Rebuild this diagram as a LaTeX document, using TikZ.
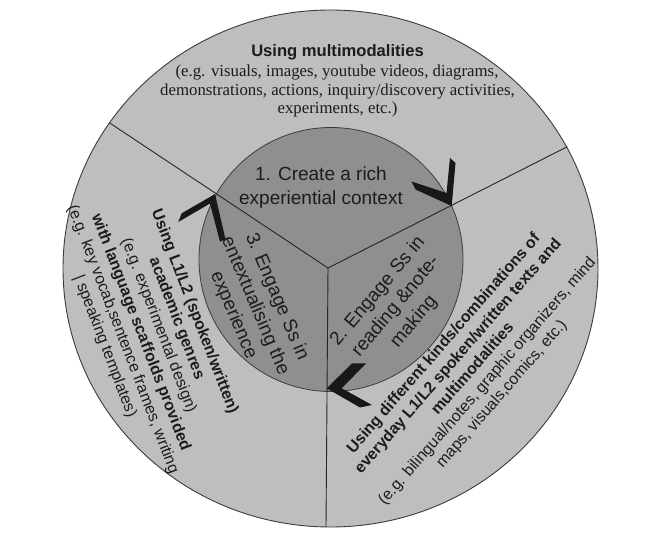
\documentclass[tikz,border=0pt]{standalone}
\usepackage{fontspec}
\setmainfont{Liberation Serif}
\setsansfont{Liberation Sans}
\definecolor{outergray}{RGB}{190,190,190}
\definecolor{innergray}{RGB}{143,143,143}
\definecolor{chevcol}{RGB}{24,24,24}
\definecolor{edgecol}{RGB}{60,60,60}
\definecolor{txtcol}{RGB}{28,28,28}
\begin{document}
\begin{tikzpicture}[x=1pt,y=-1pt,
  divline/.style={draw=black!85, line width=0.9pt},
  chevron/.style={fill=chevcol, draw=none},
  innertxt/.style={font=\sffamily\fontsize{19}{23.5}\selectfont, align=center, inner sep=0pt, text=txtcol},
  outertxt/.style={font=\sffamily\fontsize{15.9}{19.2}\selectfont, align=center, inner sep=0pt, text=txtcol},
  seriftxt/.style={font=\rmfamily\fontsize{16.8}{18.5}\selectfont, inner sep=0pt, anchor=base, text=txtcol},
  titletxt/.style={font=\sffamily\bfseries\fontsize{16.6}{18.5}\selectfont, inner sep=0pt, anchor=base, text=txtcol}]
\useasboundingbox (0,0) rectangle (665,545);
\fill[white] (0,0) rectangle (665,545);
% circles
\filldraw[fill=outergray, draw=edgecol, line width=0.9pt] (330.5,268.5) ellipse [x radius=267.5pt, y radius=258.5pt];
\filldraw[fill=innergray, draw=edgecol, line width=0.8pt] (331,259.5) circle [radius=132pt];
% dividing lines
\coordinate (J) at (328,268);
\coordinate (LA) at (109.3,122.7);
\coordinate (RA) at (567.3,146.7);
\coordinate (BA) at (326,527);
\draw[divline] (J) -- (LA);
\draw[divline] (J) -- (RA);
\draw[divline] (J) -- (BA);
% chevrons
\fill[chevron] (451.7,206) -- (455.5,163) -- (450,158) -- (446.5,193) -- (411.5,181.5) -- (415.5,189.5) -- cycle;
\fill[chevron] (215,194) -- (181.7,213.3) -- (178.3,222) -- (210,203.5) -- (220,241.7) -- (225.5,239.3) -- cycle;
\fill[chevron] (326.7,388.3) -- (352,363.5) -- (366,363.5) -- (341.7,388.3) -- (372,405) -- (360,407.5) -- cycle;
% top texts
\node[titletxt] (t1) at (337.5,57) {Using multimodalities};
\node[seriftxt] (t2) at (337,77) {(e.g. visuals, images, youtube videos, diagrams,};
\node[seriftxt] (t3) at (337.5,95.5) {demonstrations, actions, inquiry/discovery activities,};
\node[seriftxt] (t4) at (337.5,114) {experiments, etc.)};
% inner texts
\node[innertxt] (i1) at (321,187.5) {1. Create a rich\\experiential context};
\node[innertxt, rotate=50] (i2) at (396,306.5) {2. Engage Ss in\\reading \&note-\\making};
\node[innertxt, rotate=-67] (i3) at (255,306) {3. Engage Ss in\\entextualising the\\experience};
% outer side texts
\node[outertxt, rotate=-69] (l1) at (149.5,329) {\textbf{Using L1/L2 (spoken/written)}\\\textbf{academic genres}\\(e.g. experimental design)\\\textbf{with language scaffolds provided}\\(e.g. key vocab,sentence frames, writing\\| speaking templates)};
\node[outertxt, rotate=49] (r1) at (473,369) {\textbf{Using different kinds/combinations of}\\\textbf{everyday L1/L2 spoken/written texts and}\\\textbf{multimodalities}\\(e.g. bilingual/notes, graphic organizers, mind\\maps, visuals,comics, etc.)};
\end{tikzpicture}
\end{document}
